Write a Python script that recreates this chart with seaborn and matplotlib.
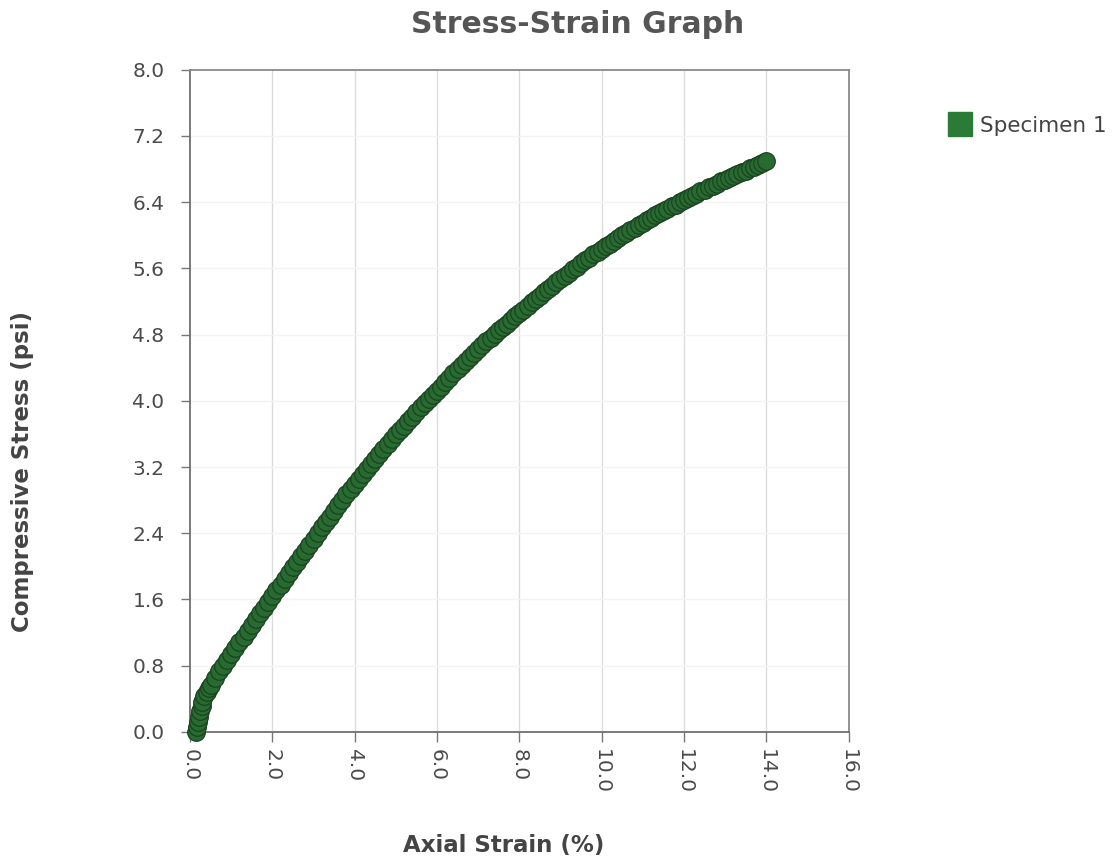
import matplotlib
matplotlib.use("Agg")
import matplotlib.pyplot as plt
import seaborn as sns
import pandas as pd
from matplotlib.lines import Line2D

# ---- data ----
strain = [0.15, 0.18, 0.20, 0.22, 0.25, 0.28, 0.30, 0.35, 0.40, 0.45, 0.50, 0.60, 0.70, 0.80, 0.90,
          1.0, 1.1, 1.2, 1.3, 1.4, 1.5, 1.6, 1.7, 1.8, 1.9,
          2.0, 2.1, 2.2, 2.3, 2.4, 2.5, 2.6, 2.7, 2.8, 2.9,
          3.0, 3.1, 3.2, 3.3, 3.4, 3.5, 3.6, 3.7, 3.8, 3.9,
          4.0, 4.1, 4.2, 4.3, 4.4, 4.5, 4.6, 4.7, 4.8, 4.9,
          5.0, 5.1, 5.2, 5.3, 5.4, 5.5, 5.6, 5.7, 5.8, 5.9,
          6.0, 6.1, 6.2, 6.3, 6.4, 6.5, 6.6, 6.7, 6.8, 6.9,
          7.0, 7.1, 7.2, 7.3, 7.4, 7.5, 7.6, 7.7, 7.8, 7.9,
          8.0, 8.1, 8.2, 8.3, 8.4, 8.5, 8.6, 8.7, 8.8, 8.9,
          9.0, 9.1, 9.2, 9.3, 9.4, 9.5, 9.6, 9.7, 9.8, 9.9,
          10.0, 10.1, 10.2, 10.3, 10.4, 10.5, 10.6, 10.7, 10.8, 10.9,
          11.0, 11.1, 11.2, 11.3, 11.4, 11.5, 11.6, 11.7, 11.8, 11.9,
          12.0, 12.1, 12.2, 12.3, 12.4, 12.5, 12.6, 12.7, 12.8, 12.9,
          13.0, 13.1, 13.2, 13.3, 13.4, 13.5, 13.6, 13.7, 13.8, 13.9,
          14.0]
stress = [0.00, 0.06, 0.12, 0.18, 0.25, 0.31, 0.36, 0.43, 0.48, 0.53, 0.57, 0.65, 0.73, 0.80, 0.87,
          0.94, 1.01, 1.08, 1.15, 1.22, 1.29, 1.36, 1.43, 1.50, 1.57,
          1.64, 1.71, 1.78, 1.85, 1.92, 1.99, 2.05, 2.12, 2.19, 2.26,
          2.33, 2.40, 2.47, 2.53, 2.60, 2.67, 2.74, 2.80, 2.87, 2.93,
          3.00, 3.06, 3.12, 3.18, 3.24, 3.30, 3.36, 3.42, 3.48, 3.54,
          3.60, 3.65, 3.70, 3.76, 3.81, 3.86, 3.92, 3.97, 4.02, 4.07,
          4.12, 4.17, 4.23, 4.28, 4.33, 4.38, 4.43, 4.48, 4.53, 4.58,
          4.63, 4.67, 4.72, 4.76, 4.81, 4.85, 4.89, 4.93, 4.98, 5.02,
          5.06, 5.10, 5.15, 5.19, 5.23, 5.27, 5.31, 5.35, 5.39, 5.43,
          5.47, 5.51, 5.55, 5.59, 5.62, 5.66, 5.70, 5.73, 5.77, 5.80,
          5.84, 5.87, 5.90, 5.93, 5.97, 6.00, 6.03, 6.06, 6.09, 6.12,
          6.15, 6.18, 6.21, 6.24, 6.27, 6.29, 6.32, 6.35, 6.37, 6.40,
          6.43, 6.45, 6.48, 6.50, 6.53, 6.55, 6.58, 6.60, 6.62, 6.65,
          6.67, 6.69, 6.72, 6.74, 6.76, 6.78, 6.81, 6.83, 6.85, 6.87,
          6.90]
series_name = "Specimen 1"
x_ticks = [0, 2, 4, 6, 8, 10, 12, 14, 16]
y_ticks = [0.0, 0.8, 1.6, 2.4, 3.2, 4.0, 4.8, 5.6, 6.4, 7.2, 8.0]

df = pd.DataFrame({"strain": strain, "stress": stress, "series": series_name})

sns.set_theme(style="white")
plt.rcParams["font.family"] = ["DejaVu Sans"]

fig = plt.figure(figsize=(11.18, 8.61), dpi=100)
ax = fig.add_axes([0.170, 0.150, 0.589, 0.769])

for xv in x_ticks[1:-1]:
    ax.axvline(xv, color="#dcdcdc", lw=1.0, zorder=0)
for yv in y_ticks[1:-1]:
    ax.axhline(yv, color="#f3f3f3", lw=1.0, zorder=0)

sns.scatterplot(data=df, x="strain", y="stress", ax=ax, color="#276b30",
                edgecolor="#1b4221", linewidth=0.9, s=160, legend=False, zorder=3,
                clip_on=False)

ax.set_xlim(0, 16)
ax.set_ylim(0, 8)
ax.set_xticks(x_ticks)
ax.set_xticklabels([f"{v:.1f}" for v in x_ticks], rotation=-90, va="top",
                   ha="center", fontsize=14.5, color="#4a4a4a")
ax.set_yticks(y_ticks)
ax.set_yticklabels([f"{v:.1f}" for v in y_ticks], fontsize=14.5, color="#4a4a4a")
ax.tick_params(axis="x", length=7, width=1, color="#777777", direction="out",
               bottom=True, pad=5)
ax.tick_params(axis="y", length=6.5, width=1, color="#777777", direction="out",
               left=True, pad=12)

for side, sp in ax.spines.items():
    sp.set_visible(True)
    sp.set_color("#6f6f6f" if side in ("left", "bottom") else "#8a8a8a")
    sp.set_linewidth(1.3)

ax.set_xlabel("Axial Strain (%)", fontsize=16.5, fontweight="bold", color="#444444")
ax.xaxis.label.set_va("center")
ax.xaxis.set_label_coords(0.476, -0.171)
ax.set_ylabel("Compressive Stress (psi)", fontsize=16.5, fontweight="bold",
              color="#444444")
ax.yaxis.label.set_va("center")
ax.yaxis.set_label_coords(-0.255, 0.393)
fig.suptitle("Stress-Strain Graph", x=0.517, y=0.972, va="center", fontsize=21.5,
             fontweight="bold", color="#555555")

handle = Line2D([0], [0], marker="s", color="none", markerfacecolor="#2b7a37",
                markeredgecolor="#2b7a37", markersize=17)
fig.legend([handle], [series_name], loc="upper left", bbox_to_anchor=(0.830, 0.888),
           frameon=False, fontsize=15.5, handletextpad=0.3, handlelength=1.2,
           labelcolor="#444444")

fig.savefig("out.png", dpi=100, facecolor="white")
